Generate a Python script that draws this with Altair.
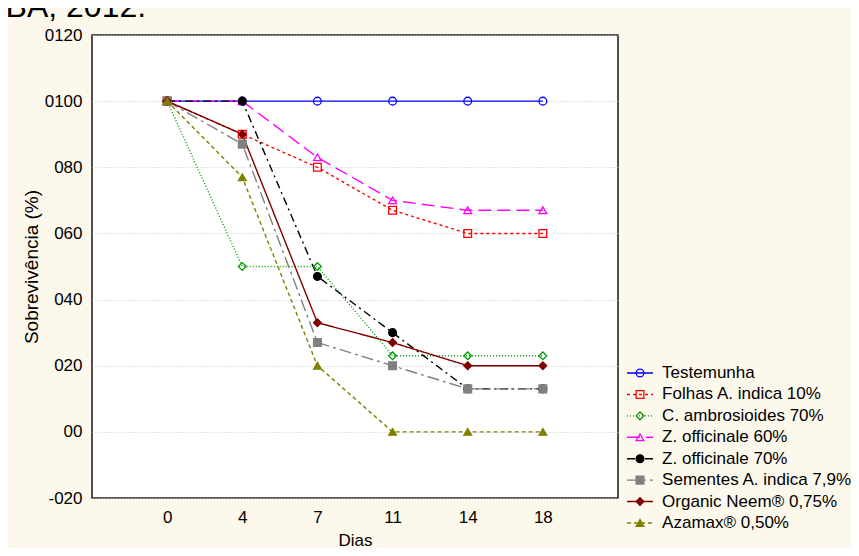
import altair as alt
import pandas as pd

# ---- data ----
days = ["0", "4", "7", "11", "14", "18"]
series = [
    "Testemunha",
    "Folhas A. indica 10%",
    "C. ambrosioides 70%",
    "Z. officinale 60%",
    "Z. officinale 70%",
    "Sementes A. indica 7,9%",
    "Organic Neem® 0,75%",
    "Azamax® 0,50%",
]
testemunha = [100, 100, 100, 100, 100, 100]
folhas_indica = [100, 90, 80, 67, 60, 60]
c_ambrosioides = [100, 50, 50, 23, 23, 23]
z_officinale_60 = [100, 100, 83, 70, 67, 67]
z_officinale_70 = [100, 100, 47, 30, 13, 13]
sementes_indica = [100, 87, 27, 20, 13, 13]
organic_neem = [100, 90, 33, 27, 20, 20]
azamax = [100, 77, 20, 0, 0, 0]
values = [testemunha, folhas_indica, c_ambrosioides, z_officinale_60,
          z_officinale_70, sementes_indica, organic_neem, azamax]
y_ticks = [-20, 0, 20, 40, 60, 80, 100, 120]
caption = ["BA, 2012."]  # fragment of the figure caption cut by the top edge

# ---- styles ----
colors = ["#0000FF", "#FF0000", "#009900", "#FF00FF", "#000000", "#808080", "#800000", "#808000"]
fills = ["transparent", "transparent", "transparent", "transparent",
         "#000000", "#808080", "#800000", "#808000"]
shapes = ["circle", "square", "diamond", "triangle-up", "circle", "square", "diamond", "triangle-up"]
dashes = [[1, 0], [3, 3], [1, 2], [13, 6], [8, 4, 2, 4], [12, 4, 3, 4], [1, 0], [4, 3]]
FONT = "Liberation Sans"

rows = []
for s, vals in zip(series, values):
    for d, v in zip(days, vals):
        rows.append({"series": s, "dia": d, "val": v})
df = pd.DataFrame(rows)

leg = pd.DataFrame({
    "series": series,
    "idx": list(range(len(series))),
    "x0": [0.0] * len(series),
    "x1": [1.0] * len(series),
    "xm": [0.5] * len(series),
    "xt": [1.35] * len(series),
})
cap = pd.DataFrame({"text": caption, "cx": [-23.9], "cy": [-16.6]})

stroke_enc = alt.Stroke("series:N", scale=alt.Scale(domain=series, range=colors), legend=None)
fill_enc = alt.Fill("series:N", scale=alt.Scale(domain=series, range=fills), legend=None)
shape_enc = alt.Shape("series:N", scale=alt.Scale(domain=series, range=shapes), legend=None)
dash_enc = alt.StrokeDash("series:N", scale=alt.Scale(domain=series, range=dashes), legend=None)

x_enc = alt.X("dia:O", sort=days, scale=alt.Scale(padding=1),
              axis=alt.Axis(title="Dias", labelAngle=0, labelPadding=11, titlePadding=7))
y_enc = alt.Y("val:Q", scale=alt.Scale(domain=[-20, 120], nice=False, zero=False),
              axis=alt.Axis(title="Sobrevivência (%)", values=y_ticks, labelPadding=10, titlePadding=3,
                            titleFontSize=19,
                            labelExpr="datum.value < 0 ? '-0' + (-datum.value) : '0' + datum.value"))

base = alt.Chart(df)
lines = base.mark_line(strokeWidth=1.4).encode(
    x=x_enc, y=y_enc, stroke=stroke_enc, strokeDash=dash_enc, detail="series:N")
points = base.mark_point(filled=True, size=60, strokeWidth=1.3, opacity=1).encode(
    x=x_enc, y=y_enc, stroke=stroke_enc, fill=fill_enc, shape=shape_enc)
main = alt.layer(lines, points)

lxs = alt.Scale(domain=[0, 1], range=[535, 561], nice=False, zero=False)
lys = alt.Scale(domain=[0, 7], range=[338, 488], nice=False, zero=False)
lbase = alt.Chart(leg)
leg_rules = lbase.mark_rule(strokeWidth=1.4).encode(
    x=alt.X("x0:Q", scale=lxs, axis=None), x2="x1:Q",
    y=alt.Y("idx:Q", scale=lys, axis=None), stroke=stroke_enc, strokeDash=dash_enc)
leg_points = lbase.mark_point(filled=True, size=60, strokeWidth=1.3, opacity=1).encode(
    x=alt.X("xm:Q", scale=lxs, axis=None), y=alt.Y("idx:Q", scale=lys, axis=None),
    stroke=stroke_enc, fill=fill_enc, shape=shape_enc)
leg_text = lbase.mark_text(align="left", baseline="middle", fontSize=17, font=FONT, color="#000000").encode(
    x=alt.X("xt:Q", scale=lxs, axis=None), y=alt.Y("idx:Q", scale=lys, axis=None), text="series:N")
cap_text = alt.Chart(cap).mark_text(align="left", baseline="alphabetic", fontSize=32, font=FONT,
                                    color="#000000").encode(
    x=alt.X("cx:Q", scale=lxs, axis=None), y=alt.Y("cy:Q", scale=lys, axis=None), text="text:N")
legend = alt.layer(leg_rules, leg_points, leg_text, cap_text)

chart = alt.layer(main, legend).resolve_scale(
    x="independent", y="independent"
).properties(
    width=526,
    height=463,
    autosize=alt.AutoSizeParams(type="none"),
    padding={"left": 84, "top": 27, "right": 233, "bottom": 50},
).configure(
    background="#FDF8EC",
).configure_view(
    fill="#FFFFFF", stroke="#222222", strokeWidth=1.6,
).configure_axis(
    labelFont=FONT, titleFont=FONT, labelFontSize=17, titleFontSize=17,
    titleFontWeight="normal", labelColor="#000000", titleColor="#000000",
    gridColor="#c8c8c8", gridDash=[1, 2], gridWidth=1, ticks=False, domain=False,
)

chart.save("out.html", embed_options={"renderer": "svg", "actions": False})
